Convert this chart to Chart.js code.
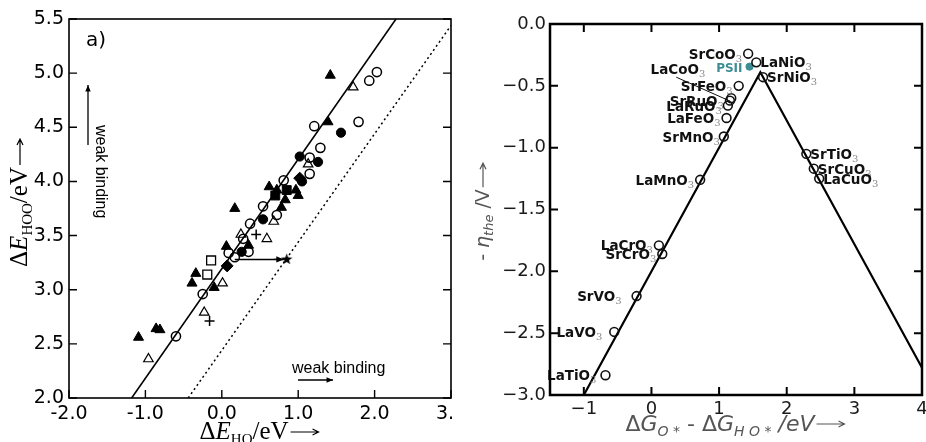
<!DOCTYPE html>
<html>
<head>
<meta charset="utf-8">
<script src="https://cdn.jsdelivr.net/npm/chart.js@4.4.0/dist/chart.umd.min.js"></script>
<style>
    body { margin: 0; background: #fff; }
    .panel { position: absolute; top: 0; overflow: hidden; background: #fff; }
    .panel canvas { display: block; }
    #scalingPanel { left: 0; width: 452px; height: 442px; }
    #volcanoPanel { left: 452px; width: 474px; height: 442px; }
</style>
</head>
<body>
<div class="panel" id="scalingPanel"><canvas id="scalingChart" width="452" height="442"></canvas></div>
<div class="panel" id="volcanoPanel"><canvas id="volcanoChart" width="474" height="442"></canvas></div>
<script>
// ---------- a) HOO vs HO binding energies ----------
const filledTriangles = [[1.42, 4.98], [1.39, 4.55], [0.17, 3.75], [0.06, 3.40], [0.35, 3.41], [-0.34, 3.15],
    [-0.39, 3.06], [-0.10, 3.02], [-1.09, 2.56], [-0.86, 2.64], [-0.81, 2.63], [0.62, 3.95], [0.72, 3.92],
    [0.83, 3.83], [0.78, 3.76], [0.97, 3.92], [1.00, 3.87]];
const openTriangles = [[1.72, 4.87], [-0.96, 2.36], [-0.23, 2.79], [0.01, 3.06], [0.25, 3.51], [0.59, 3.47],
    [0.68, 3.63], [1.13, 4.16]];
const openCircles = [[2.03, 5.01], [1.93, 4.93], [1.79, 4.55], [1.21, 4.51], [1.29, 4.31], [1.15, 4.22],
    [1.15, 4.07], [0.81, 4.01], [0.72, 3.69], [0.54, 3.77], [0.37, 3.61], [0.28, 3.47], [0.35, 3.35],
    [0.17, 3.30], [0.09, 3.34], [-0.25, 2.96], [-0.60, 2.57]];
const filledCircles = [[1.56, 4.45], [1.26, 4.18], [1.02, 4.23], [0.54, 3.65], [0.26, 3.35], [1.05, 4.00]];
const filledDiamonds = [[0.07, 3.22], [1.02, 4.03]];
const filledSquares = [[0.70, 3.87], [0.85, 3.92]];
const openSquares = [[-0.14, 3.27], [-0.19, 3.14]];
const crosses = [[0.45, 3.51], [-0.16, 2.71]];
const starPoint = [[0.85, 3.28]];
const shiftArrowX = [0.17, 0.81];
const shiftArrowY = [3.28, 3.28];
const fitLineX = [-1.18, 2.28];
const fitLineY = [2.0, 5.5];
const idealLineX = [-0.44, 3.0];
const idealLineY = [2.0, 5.44];
const scalingXTicks = [-2, -1, 0, 1, 2, 3];
const scalingYTicks = [2.0, 2.5, 3.0, 3.5, 4.0, 4.5, 5.0, 5.5];

// ---------- volcano ----------
const oxides = ['SrCoO3', 'LaNiO3', 'SrNiO3', 'LaCoO3', 'SrFeO3', 'SrRuO3', 'LaRuO3', 'LaFeO3', 'SrMnO3',
    'LaMnO3', 'SrTiO3', 'SrCuO3', 'LaCuO3', 'LaCrO3', 'SrCrO3', 'SrVO3', 'LaVO3', 'LaTiO3'];
const oxideDeltaG = [1.43, 1.55, 1.65, 1.18, 1.29, 1.16, 1.13, 1.11, 1.07, 0.72, 2.29, 2.40, 2.48, 0.11, 0.16,
    -0.22, -0.55, -0.68];
const oxideEta = [-0.24, -0.31, -0.43, -0.60, -0.50, -0.62, -0.66, -0.76, -0.91, -1.26, -1.05, -1.17, -1.25,
    -1.79, -1.86, -2.20, -2.49, -2.84];
const psiiPoint = [[1.45, -0.345]];
const volcanoX = [-1.0, 1.61, 4.0];
const volcanoY = [-3.0, -0.39, -2.78];

// label placement (layout only)
const labelPlace = {
    LaNiO3: { side: 'right' }, SrNiO3: { side: 'right' }, SrTiO3: { side: 'right' },
    SrCuO3: { side: 'right' }, LaCuO3: { side: 'right' },
    SrVO3: { gap: 15 }, LaVO3: { gap: 12 }, LaTiO3: { gap: 9 }, SrMnO3: { gap: 4 },
    LaCoO3: { leader: true }
};

const pts = (arr) => arr.map(([x, y]) => ({ x, y }));
const zip = (xs, ys) => xs.map((x, i) => ({ x, y: ys[i] }));
const sans = '"DejaVu Sans", sans-serif';
const serif = '"Liberation Serif", "DejaVu Serif", serif';

function richText(ctx, parts, x, y, align, angle, color) {
    ctx.save();
    ctx.translate(x, y);
    ctx.rotate(angle || 0);
    let total = 0;
    parts.forEach(p => {
        ctx.font = p.font || '10px sans-serif';
        p.w = p.arrow || ctx.measureText(p.text).width;
        total += p.w;
    });
    let cx = align === 'center' ? -total / 2 : (align === 'right' ? -total : 0);
    parts.forEach(p => {
        ctx.fillStyle = p.color || color || '#000';
        ctx.strokeStyle = p.color || color || '#000';
        if (p.arrow) {
            ctx.lineWidth = 1.2;
            ctx.beginPath();
            ctx.moveTo(cx + 2, p.dy);
            ctx.lineTo(cx + p.arrow, p.dy);
            ctx.moveTo(cx + p.arrow - 6, p.dy - 3);
            ctx.lineTo(cx + p.arrow, p.dy);
            ctx.lineTo(cx + p.arrow - 6, p.dy + 3);
            ctx.stroke();
        } else {
            ctx.font = p.font;
            ctx.fillText(p.text, cx, p.dy || 0);
        }
        cx += p.w;
    });
    ctx.restore();
    return total;
}

function arrow(ctx, x1, y1, x2, y2, head) {
    const a = Math.atan2(y2 - y1, x2 - x1);
    ctx.beginPath();
    ctx.moveTo(x1, y1);
    ctx.lineTo(x2, y2);
    ctx.stroke();
    ctx.beginPath();
    ctx.moveTo(x2, y2);
    ctx.lineTo(x2 - head * Math.cos(a - 0.4), y2 - head * Math.sin(a - 0.4));
    ctx.lineTo(x2 - head * Math.cos(a + 0.4), y2 - head * Math.sin(a + 0.4));
    ctx.closePath();
    ctx.fill();
}

// frame with inward ticks
const frameTicks = {
    id: 'frameTicks',
    afterDraw(chart, args, o) {
        const { ctx, chartArea: a, scales: { x, y } } = chart;
        ctx.save();
        ctx.strokeStyle = '#000';
        ctx.lineWidth = o.width;
        ctx.lineCap = 'square';
        ctx.strokeRect(a.left, a.top, a.right - a.left, a.bottom - a.top);
        ctx.lineCap = 'butt';
        ctx.lineWidth = o.tickWidth;
        ctx.beginPath();
        x.ticks.forEach(t => {
            const px = x.getPixelForValue(t.value);
            ctx.moveTo(px, a.bottom);
            ctx.lineTo(px, a.bottom - o.len);
            if (o.top) {
                ctx.moveTo(px, a.top);
                ctx.lineTo(px, a.top + o.len);
            }
        });
        y.ticks.forEach(t => {
            const py = y.getPixelForValue(t.value);
            ctx.moveTo(a.left, py);
            ctx.lineTo(a.left + o.len, py);
            ctx.moveTo(a.right, py);
            ctx.lineTo(a.right - o.len, py);
        });
        ctx.stroke();
        ctx.restore();
    }
};

function fixedAxis(size, horizontal) {
    return (scale) => {
        if (horizontal) scale.height = size; else scale.width = size;
        scale.paddingLeft = scale.paddingRight = scale.paddingTop = scale.paddingBottom = 0;
    };
}

// filled five point star marker
const starImg = document.createElement('canvas');
starImg.width = 13;
starImg.height = 13;
(function () {
    const c = starImg.getContext('2d');
    c.beginPath();
    for (let i = 0; i < 10; i++) {
        const r = i % 2 ? 2.4 : 6;
        const a = -Math.PI / 2 + i * Math.PI / 5;
        c.lineTo(6.5 + r * Math.cos(a), 6.5 + r * Math.sin(a));
    }
    c.closePath();
    c.fillStyle = '#000';
    c.fill();
})();

// ---------- a) notes ----------
const scalingNotes = {
    id: 'scalingNotes',
    afterDraw(chart) {
        const { ctx, scales: { x, y } } = chart;
        ctx.save();
        ctx.fillStyle = '#000';
        ctx.strokeStyle = '#000';
        ctx.font = '20px ' + sans;
        ctx.fillText('a)', 86, 46);

        ctx.font = '16px "Liberation Sans", Arial, sans-serif';
        ctx.fillText('weak binding', 292, 373);
        ctx.save();
        ctx.translate(96, 125);
        ctx.rotate(Math.PI / 2);
        ctx.fillText('weak binding', 0, 0);
        ctx.restore();

        ctx.lineWidth = 1.3;
        arrow(ctx, 88, 145, 88, 85, 7);
        arrow(ctx, 298, 380, 333, 380, 7);

        // head of the shift arrow
        const hx = x.getPixelForValue(shiftArrowX[1]);
        const hy = y.getPixelForValue(shiftArrowY[1]);
        arrow(ctx, hx - 10, hy, hx, hy, 8);

        // axis titles
        richText(ctx, [
            { text: 'Δ', font: '25px ' + serif },
            { text: 'E', font: 'italic 25px ' + serif },
            { text: 'HOO', font: '15px ' + serif, dy: 5 },
            { text: '/eV', font: '25px ' + serif },
            { arrow: 28, dy: -7 }
        ], 27, 203, 'center', -Math.PI / 2);
        richText(ctx, [
            { text: 'Δ', font: '25px ' + serif },
            { text: 'E', font: 'italic 25px ' + serif },
            { text: 'HO', font: '15px ' + serif, dy: 5 },
            { text: '/eV', font: '25px ' + serif },
            { arrow: 30, dy: -7 }
        ], 259, 439, 'center', 0);
        ctx.restore();
    }
};

new Chart(document.getElementById('scalingChart'), {
    type: 'scatter',
    data: {
        datasets: [
            { data: pts(filledTriangles), pointStyle: 'triangle', pointRadius: 5.8, backgroundColor: '#000', borderColor: '#000', borderWidth: 1 },
            { data: pts(openTriangles), pointStyle: 'triangle', pointRadius: 5.5, backgroundColor: 'rgba(0,0,0,0)', borderColor: '#000', borderWidth: 1.2 },
            { data: pts(openCircles), pointStyle: 'circle', pointRadius: 4.6, backgroundColor: 'rgba(0,0,0,0)', borderColor: '#000', borderWidth: 1.5 },
            { data: pts(filledCircles), pointStyle: 'circle', pointRadius: 4.6, backgroundColor: '#000', borderColor: '#000', borderWidth: 1 },
            { data: pts(filledDiamonds), pointStyle: 'rectRot', pointRadius: 6, backgroundColor: '#000', borderColor: '#000', borderWidth: 1 },
            { data: pts(filledSquares), pointStyle: 'rect', pointRadius: 6.3, backgroundColor: '#000', borderColor: '#000', borderWidth: 1 },
            { data: pts(openSquares), pointStyle: 'rect', pointRadius: 6.3, backgroundColor: 'rgba(0,0,0,0)', borderColor: '#000', borderWidth: 1.3 },
            { data: pts(crosses), pointStyle: 'cross', pointRadius: 5, borderColor: '#000', borderWidth: 1.5 },
            { data: pts(starPoint), pointStyle: starImg, pointRadius: 6 },
            { type: 'line', data: zip(shiftArrowX, shiftArrowY), borderColor: '#000', borderWidth: 1.5, pointRadius: 0 },
            { type: 'line', data: zip(fitLineX, fitLineY), borderColor: '#000', borderWidth: 1.6, pointRadius: 0 },
            { type: 'line', data: zip(idealLineX, idealLineY), borderColor: '#000', borderWidth: 1.5, borderDash: [2, 3], pointRadius: 0 }
        ]
    },
    options: {
        responsive: false,
        animation: false,
        layout: { autoPadding: false, padding: { top: 19, right: 1, left: 0, bottom: 0 } },
        plugins: {
            legend: false,
            tooltip: { enabled: false },
            frameTicks: { width: 1.6, tickWidth: 1.4, len: 8, top: false }
        },
        scales: {
            x: {
                type: 'linear', min: -2, max: 3,
                afterFit: fixedAxis(44, true),
                afterBuildTicks: (s) => { s.ticks = scalingXTicks.map(v => ({ value: v })); },
                grid: { display: false, drawTicks: false },
                border: { display: false },
                ticks: { color: '#000', padding: 5, autoSkip: false, maxRotation: 0, font: { family: 'DejaVu Sans', size: 19 }, callback: (v) => v.toFixed(1) }
            },
            y: {
                type: 'linear', min: 2, max: 5.5,
                afterFit: fixedAxis(69, false),
                afterBuildTicks: (s) => { s.ticks = scalingYTicks.map(v => ({ value: v })); },
                grid: { display: false, drawTicks: false },
                border: { display: false },
                ticks: { color: '#000', padding: 5, autoSkip: false, font: { family: 'DejaVu Sans', size: 19 }, callback: (v) => v.toFixed(1) }
            }
        }
    },
    plugins: [frameTicks, scalingNotes]
});

// ---------- volcano labels ----------
const oxideLabels = {
    id: 'oxideLabels',
    afterDatasetsDraw(chart) {
        const { ctx } = chart;
        const meta = chart.getDatasetMeta(0);
        const bold = 'bold 13.5px ' + sans;
        const sub = '10px "DejaVu Serif", serif';
        ctx.save();
        meta.data.forEach((pt, i) => {
            const name = oxides[i];
            const place = labelPlace[name] || {};
            const parts = [
                { text: name.slice(0, -1), font: bold, color: '#111' },
                { text: name.slice(-1), font: sub, color: '#8a8a8a', dy: 3 }
            ];
            if (place.side === 'right') {
                richText(ctx, parts, pt.x + 4, pt.y + 5, 'left', 0);
            } else if (place.leader) {
                richText(ctx, parts, pt.x - 26, pt.y - 24, 'right', 0);
                ctx.strokeStyle = '#111';
                ctx.lineWidth = 1;
                ctx.beginPath();
                ctx.moveTo(pt.x - 55, pt.y - 21);
                ctx.lineTo(pt.x - 1, pt.y + 3);
                ctx.stroke();
            } else {
                richText(ctx, parts, pt.x - (place.gap || 6), pt.y + 5, 'right', 0);
            }
        });
        const ps = chart.getDatasetMeta(1).data[0];
        ctx.font = 'bold 12px ' + sans;
        ctx.fillStyle = '#3d8e94';
        ctx.textAlign = 'right';
        ctx.fillText('PSII', ps.x - 7, ps.y + 5);
        ctx.restore();
    },
    afterDraw(chart) {
        const { ctx } = chart;
        const grey = '#555';
        richText(ctx, [
            { text: '- ', font: '19px ' + sans },
            { text: 'η', font: 'italic 19px ' + sans },
            { text: 'the', font: 'italic 13px ' + sans, dy: 4 },
            { text: ' /V', font: '19px ' + sans },
            { arrow: 26, dy: -6 }
        ], 37, 212, 'center', -Math.PI / 2, grey);
        richText(ctx, [
            { text: 'Δ', font: '22px ' + sans },
            { text: 'G', font: 'italic 22px ' + sans },
            { text: 'O *', font: 'italic 14px ' + sans, dy: 5 },
            { text: ' - ', font: '22px ' + sans },
            { text: 'Δ', font: '22px ' + sans },
            { text: 'G', font: 'italic 22px ' + sans },
            { text: 'H O *', font: 'italic 14px ' + sans, dy: 5 },
            { text: ' /eV', font: 'italic 22px ' + sans },
            { arrow: 30, dy: -7 }
        ], 283, 431, 'center', 0, grey);
    }
};

new Chart(document.getElementById('volcanoChart'), {
    type: 'scatter',
    data: {
        datasets: [
            { data: zip(oxideDeltaG, oxideEta), pointStyle: 'circle', pointRadius: 4.4, backgroundColor: 'rgba(0,0,0,0)', borderColor: '#111', borderWidth: 1.6 },
            { data: pts(psiiPoint), pointStyle: 'circle', pointRadius: 3.6, backgroundColor: '#3d8e94', borderColor: '#3d8e94', borderWidth: 1 },
            { type: 'line', data: zip(volcanoX, volcanoY), borderColor: '#000', borderWidth: 2.2, pointRadius: 0 }
        ]
    },
    options: {
        responsive: false,
        animation: false,
        layout: { autoPadding: false, padding: { top: 24, right: 4, left: 0, bottom: 0 } },
        plugins: {
            legend: false,
            tooltip: { enabled: false },
            frameTicks: { width: 2.5, tickWidth: 2, len: 8, top: true }
        },
        scales: {
            x: {
                type: 'linear', min: -1.5, max: 4,
                afterFit: fixedAxis(47, true),
                grid: { display: false, drawTicks: false },
                border: { display: false },
                ticks: { stepSize: 1, includeBounds: false, color: '#1a1a1a', padding: 4, autoSkip: false, maxRotation: 0, font: { family: 'DejaVu Sans', size: 18 }, callback: (v) => String(v).replace('-', '−') }
            },
            y: {
                type: 'linear', min: -3, max: 0,
                afterFit: fixedAxis(98, false),
                grid: { display: false, drawTicks: false },
                border: { display: false },
                ticks: { stepSize: 0.5, color: '#1a1a1a', padding: 4, autoSkip: false, font: { family: 'DejaVu Sans', size: 18 }, callback: (v) => v.toFixed(1).replace('-', '−') }
            }
        }
    },
    plugins: [frameTicks, oxideLabels]
});
</script>
</body>
</html>
